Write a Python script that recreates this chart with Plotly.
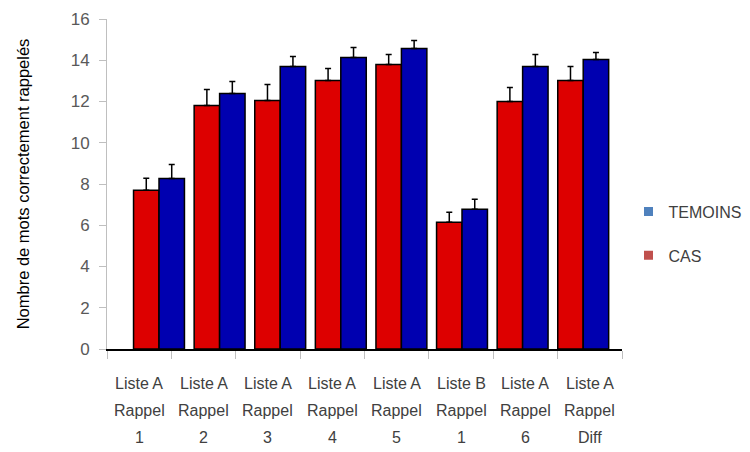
import plotly.graph_objects as go

categories = ["L1R1", "L2R2", "L3R3", "L4R4", "L5R5", "LBR1", "L6R6", "LDiff"]
label_line1 = ["Liste A", "Liste A", "Liste A", "Liste A", "Liste A", "Liste B", "Liste A", "Liste A"]
label_line2 = ["Rappel"] * 8
label_line3 = ["1", "2", "3", "4", "5", "1", "6", "Diff"]

cas_values = [7.70, 11.81, 12.05, 13.02, 13.79, 6.15, 12.00, 13.02]
cas_errors = [0.58, 0.77, 0.78, 0.58, 0.49, 0.48, 0.68, 0.68]
temoins_values = [8.27, 12.39, 13.70, 14.13, 14.57, 6.78, 13.70, 14.04]
temoins_errors = [0.68, 0.58, 0.48, 0.49, 0.39, 0.48, 0.58, 0.34]

y_ticks = [0, 2, 4, 6, 8, 10, 12, 14, 16]

FONT = "Liberation Sans"
TXT = "#404040"

fig = go.Figure()
fig.add_trace(go.Bar(
    x=categories, y=cas_values, xaxis="x2", name="CAS", showlegend=False,
    marker=dict(color="#DD0000", line=dict(color="black", width=1.5)),
    error_y=dict(type="data", array=cas_errors, arrayminus=[0] * 8, symmetric=False,
                 color="black", thickness=1.5, width=3),
))
fig.add_trace(go.Bar(
    x=categories, y=temoins_values, xaxis="x2", name="TEMOINS", showlegend=False,
    marker=dict(color="#0000B0", line=dict(color="black", width=1.5)),
    error_y=dict(type="data", array=temoins_errors, arrayminus=[0] * 8, symmetric=False,
                 color="black", thickness=1.5, width=3),
))
# legend entries (legend colours differ from bars in the original)
fig.add_trace(go.Scatter(x=[None], y=[None], mode="markers", name="TEMOINS",
                         legendgroup="t", marker=dict(symbol="square", size=9, color="#4F81BD")))
fig.add_trace(go.Scatter(x=[None], y=[None], mode="markers", name="CAS",
                         legendgroup="c", marker=dict(symbol="square", size=9, color="#C0504D")))

fig.update_layout(
    xaxis=dict(type="category", categoryorder="array", categoryarray=categories,
               range=[-0.5, 7.5], showticklabels=False, tickson="boundaries",
               ticks="outside", ticklen=8, tickcolor="#BFBFBF", showline=True,
               linecolor="black", linewidth=1.5, showgrid=False, zeroline=False),
    xaxis2=dict(type="category", categoryorder="array", categoryarray=categories,
                overlaying="x", range=[-0.858, 7.640], showticklabels=False,
                showgrid=False, zeroline=False, showline=False, ticks=""),
    yaxis=dict(range=[0, 16], tickvals=y_ticks, ticks="outside", ticklen=7,
               tickcolor="#BFBFBF", showline=True, linecolor="#BFBFBF", linewidth=1,
               showgrid=False, zeroline=False, ticklabelstandoff=6,
               tickfont=dict(family=FONT, size=17, color="#595959"),
               title=dict(text="Nombre de mots correctement rappelés", standoff=36,
                          font=dict(family=FONT, size=16.5, color="black"))),
    barmode="group", bargap=0.16, bargroupgap=0,
    width=750, height=452,
    margin=dict(l=107, r=128, t=19, b=103, autoexpand=False),
    plot_bgcolor="white", paper_bgcolor="white",
    legend=dict(xref="container", x=0.838, xanchor="left", y=0.468, yanchor="top",
                font=dict(family=FONT, size=16, color=TXT), tracegroupgap=20,
                bgcolor="rgba(0,0,0,0)"),
    font=dict(family=FONT),
)

for i, c in enumerate(categories):
    for text, shift in ((label_line1[i], -34), (label_line2[i], -61), (label_line3[i], -88)):
        fig.add_annotation(x=c, xref="x", y=0, yref="paper", text=text, showarrow=False,
                           yanchor="middle", yshift=shift,
                           font=dict(family=FONT, size=16, color=TXT))

fig.write_html("out.html", config={"displayModeBar": False},
               post_script="document.body.style.margin='0';")
